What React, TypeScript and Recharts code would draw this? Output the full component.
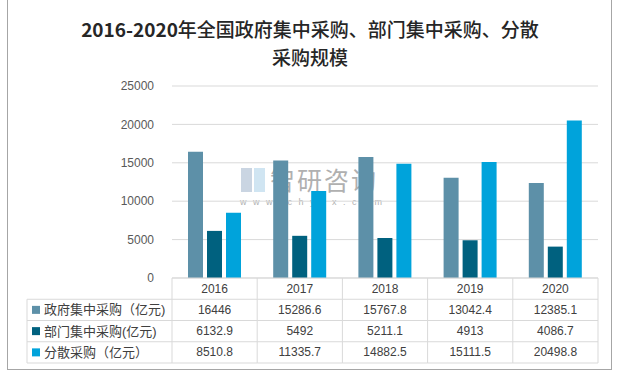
import { BarChart, Bar, XAxis, YAxis, CartesianGrid } from 'recharts';

const years = ['2016', '2017', '2018', '2019', '2020'];
const govCentral = [16446, 15286.6, 15767.8, 13042.4, 12385.1];
const deptCentral = [6132.9, 5492, 5211.1, 4913, 4086.7];
const scattered = [8510.8, 11335.7, 14882.5, 15111.5, 20498.8];
const seriesNames = ['政府集中采购（亿元)', '部门集中采购(亿元)', '分散采购（亿元）'];
const yTicks = [0, 5000, 10000, 15000, 20000, 25000];

const colors = ['#5d90a8', '#00617f', '#00a3db'];
const seriesValues = [govCentral, deptCentral, scattered];

const data = years.map((year, i) => ({
    year,
    gov: govCentral[i],
    dept: deptCentral[i],
    scat: scattered[i],
}));

const PLOT_LEFT = 172;
const PLOT_RIGHT = 598;
const COL_W = (PLOT_RIGHT - PLOT_LEFT) / years.length;
const ROW_H = 21.25;
const LABEL_W = 145;
const LINE = '#d9d9d9';
const TEXT = '#404040';
const FONT = "'Liberation Sans', 'Noto Sans CJK SC', sans-serif";
const CJK = "'Noto Sans CJK SC', sans-serif";

function TableTick(props: any) {
    const { x, y, payload, index } = props;
    const left = x - COL_W / 2;
    const right = x + COL_W / 2;
    const xl = left - LABEL_W;
    return (
        <g fontFamily={FONT} fontSize={12} fill={TEXT}>
            <text x={x} y={y + ROW_H / 2} textAnchor="middle" dominantBaseline="central">
                {payload.value}
            </text>
            {seriesValues.map((vals, r) => (
                <text key={r} x={x} y={y + ROW_H * (r + 1.5)} textAnchor="middle" dominantBaseline="central">
                    {String(vals[index])}
                </text>
            ))}
            {[1, 2, 3, 4].map((k) => (
                <line key={k} x1={left} x2={right} y1={y + ROW_H * k} y2={y + ROW_H * k} stroke={LINE} />
            ))}
            <line x1={left} x2={left} y1={y} y2={y + ROW_H * 4} stroke={LINE} />
            {index === years.length - 1 && (
                <line x1={right} x2={right} y1={y} y2={y + ROW_H * 4} stroke={LINE} />
            )}
            {index === 0 && (
                <g>
                    {[1, 2, 3, 4].map((k) => (
                        <line key={k} x1={xl} x2={left} y1={y + ROW_H * k} y2={y + ROW_H * k} stroke={LINE} />
                    ))}
                    <line x1={xl} x2={xl} y1={y + ROW_H} y2={y + ROW_H * 4} stroke={LINE} />
                    {seriesNames.map((name, r) => (
                        <g key={name}>
                            <rect x={xl + 5} y={y + ROW_H * (r + 1.5) - 4} width={8} height={8} fill={colors[r]} />
                            <text x={xl + 17} y={y + ROW_H * (r + 1.5)} dominantBaseline="central" fontSize={13}>
                                {name}
                            </text>
                        </g>
                    ))}
                </g>
            )}
        </g>
    );
}

const titleLine = {
    position: 'absolute' as const, left: 0, width: 620, textAlign: 'center' as const,
    fontFamily: CJK, fontSize: 19, lineHeight: '20px', height: 20, color: '#262626', fontWeight: 500,
};

export default function App() {
    return (
        <div style={{ position: 'absolute', left: 0, top: 0, width: 620, height: 373, background: '#fff' }}>
            <div
                style={{
                    position: 'absolute', left: 7, top: -1, width: 605, height: 371,
                    border: '1px solid #a6a6a6', boxSizing: 'border-box',
                }}
            />
            <div style={{ ...titleLine, top: 19 }}>
                <span style={{ fontWeight: 700 }}>2016-2020</span>年全国政府集中采购、部门集中采购、分散
            </div>
            <div style={{ ...titleLine, top: 47 }}>采购规模</div>
            {/* watermark */}
            <div style={{ position: 'absolute', left: 241, top: 168, width: 24, height: 24, opacity: 0.55 }}>
                <div style={{ position: 'absolute', left: 0, top: 0, width: 11, height: 24, background: '#9fb3cc' }} />
                <div style={{ position: 'absolute', left: 13, top: 0, width: 11, height: 24, background: '#a9cfe8' }} />
            </div>
            <div
                style={{
                    position: 'absolute', left: 270, top: 164, color: '#b0b0b0',
                    fontFamily: CJK, fontSize: 25, letterSpacing: 2, lineHeight: '30px',
                }}
            >
                智研咨询
            </div>
            <div
                style={{
                    position: 'absolute', left: 240, top: 197, color: '#b0b0b0',
                    fontFamily: FONT, fontSize: 9, letterSpacing: 6.5, lineHeight: '10px',
                }}
            >
                www.chyxx.com
            </div>
            <div style={{ position: 'absolute', left: 0, top: 0 }}>
                <BarChart
                    width={620}
                    height={373}
                    data={data}
                    margin={{ top: 86, right: 620 - PLOT_RIGHT, left: PLOT_LEFT - 60, bottom: 10 }}
                    barSize={15}
                    barGap={4}
                >
                    <CartesianGrid vertical={false} stroke={LINE} />
                    <XAxis
                        dataKey="year"
                        height={85}
                        axisLine={{ stroke: LINE }}
                        tickLine={false}
                        tickSize={0}
                        tickMargin={0}
                        interval={0}
                        tick={<TableTick />}
                    />
                    <YAxis
                        width={60}
                        domain={[0, 25000]}
                        ticks={yTicks}
                        axisLine={false}
                        tickLine={false}
                        tickMargin={12}
                        tick={{ fontSize: 12, fill: '#595959', fontFamily: FONT }}
                    />
                    <Bar dataKey="gov" fill={colors[0]} isAnimationActive={false} />
                    <Bar dataKey="dept" fill={colors[1]} isAnimationActive={false} />
                    <Bar dataKey="scat" fill={colors[2]} isAnimationActive={false} />
                </BarChart>
            </div>
        </div>
    );
}
